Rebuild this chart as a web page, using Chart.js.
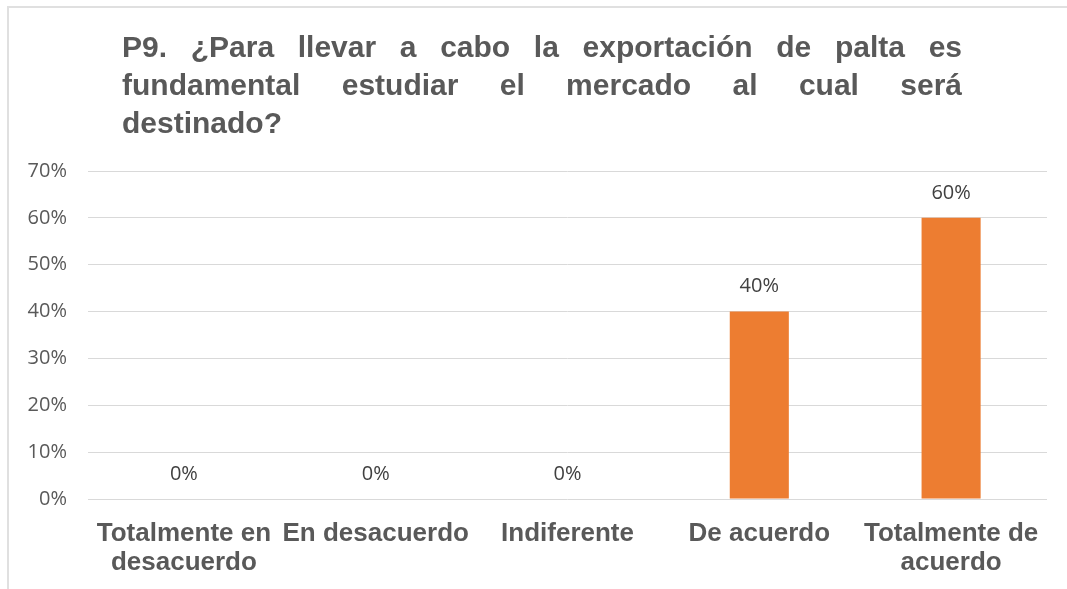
<!DOCTYPE html>
<html>
<head>
<meta charset="utf-8">
<script src="https://cdn.jsdelivr.net/npm/chart.js@4/dist/chart.umd.min.js"></script>
<style>
  body { margin: 0; background: #fff; }
  #wrap { position: relative; width: 1067px; height: 589px; overflow: hidden; }
  #frame { position: absolute; left: 7px; top: 6px; width: 1100px; height: 700px;
           border-left: 2px solid #e0e0e0; border-top: 2px solid #e0e0e0; }
  #title { position: absolute; left: 122px; top: 28px; width: 840px;
           font: bold 30px "Liberation Sans", Arial, sans-serif; line-height: 38px; color: #595959; }
  #title div.j { text-align: justify; text-align-last: justify; }
  canvas { position: absolute; left: 0; top: 0; }
</style>
</head>
<body>
<div id="wrap">
  <div id="frame"></div>
  <canvas id="grafico" width="1067" height="589"></canvas>
  <div id="title">
    <div class="j">P9. ¿Para llevar a cabo la exportación de palta es</div>
    <div class="j">fundamental estudiar el mercado al cual será</div>
    <div>destinado?</div>
  </div>
</div>
<script>
// Datos de la pregunta P9
const categorias = [
  ['Totalmente en', 'desacuerdo'],
  'En desacuerdo',
  'Indiferente',
  'De acuerdo',
  ['Totalmente de', 'acuerdo']
];
const porcentajes = [0, 0, 0, 40, 60];
const ejeMax = 70;
const ejePaso = 10;

// etiquetas de valor encima de cada barra
const etiquetasValor = {
  id: 'etiquetasValor',
  afterDatasetsDraw(chart) {
    const ctx = chart.ctx;
    const meta = chart.getDatasetMeta(0);
    ctx.save();
    ctx.font = '20px "Open Sans", sans-serif';
    ctx.fillStyle = '#404040';
    ctx.textAlign = 'center';
    ctx.textBaseline = 'middle';
    meta.data.forEach((bar, i) => {
      ctx.fillText(porcentajes[i] + '%', bar.x, bar.y - 25);
    });
    ctx.restore();
  }
};

const ctx = document.getElementById('grafico').getContext('2d');
const grafico = new Chart(ctx, {
  type: 'bar',
  data: {
    labels: categorias,
    datasets: [{
      data: porcentajes,
      backgroundColor: '#ED7D31',
      barPercentage: 0.308,
      categoryPercentage: 1
    }]
  },
  options: {
    responsive: false,
    animation: false,
    layout: { padding: { top: 171, right: 20, left: 0, bottom: 0 } },
    plugins: {
      legend: { display: false },
      tooltip: { enabled: false }
    },
    scales: {
      x: {
        grid: { display: false, drawTicks: false },
        border: { display: false },
        ticks: {
          autoSkip: false,
          maxRotation: 0,
          padding: 20,
          color: '#595959',
          font: { family: '"Liberation Sans", Arial, sans-serif', size: 26, weight: 'bold', lineHeight: 1.13 }
        },
        afterFit(scale) { scale.height = 90; }
      },
      y: {
        min: 0,
        max: ejeMax,
        grid: { color: '#d9d9d9', lineWidth: 1, drawTicks: false },
        border: { display: false },
        ticks: {
          stepSize: ejePaso,
          padding: 21,
          color: '#595959',
          font: { family: '"Open Sans", sans-serif', size: 20 },
          callback: v => v + '%'
        },
        afterFit(scale) { scale.width = 88; }
      }
    }
  },
  plugins: [etiquetasValor]
});
</script>
</body>
</html>
